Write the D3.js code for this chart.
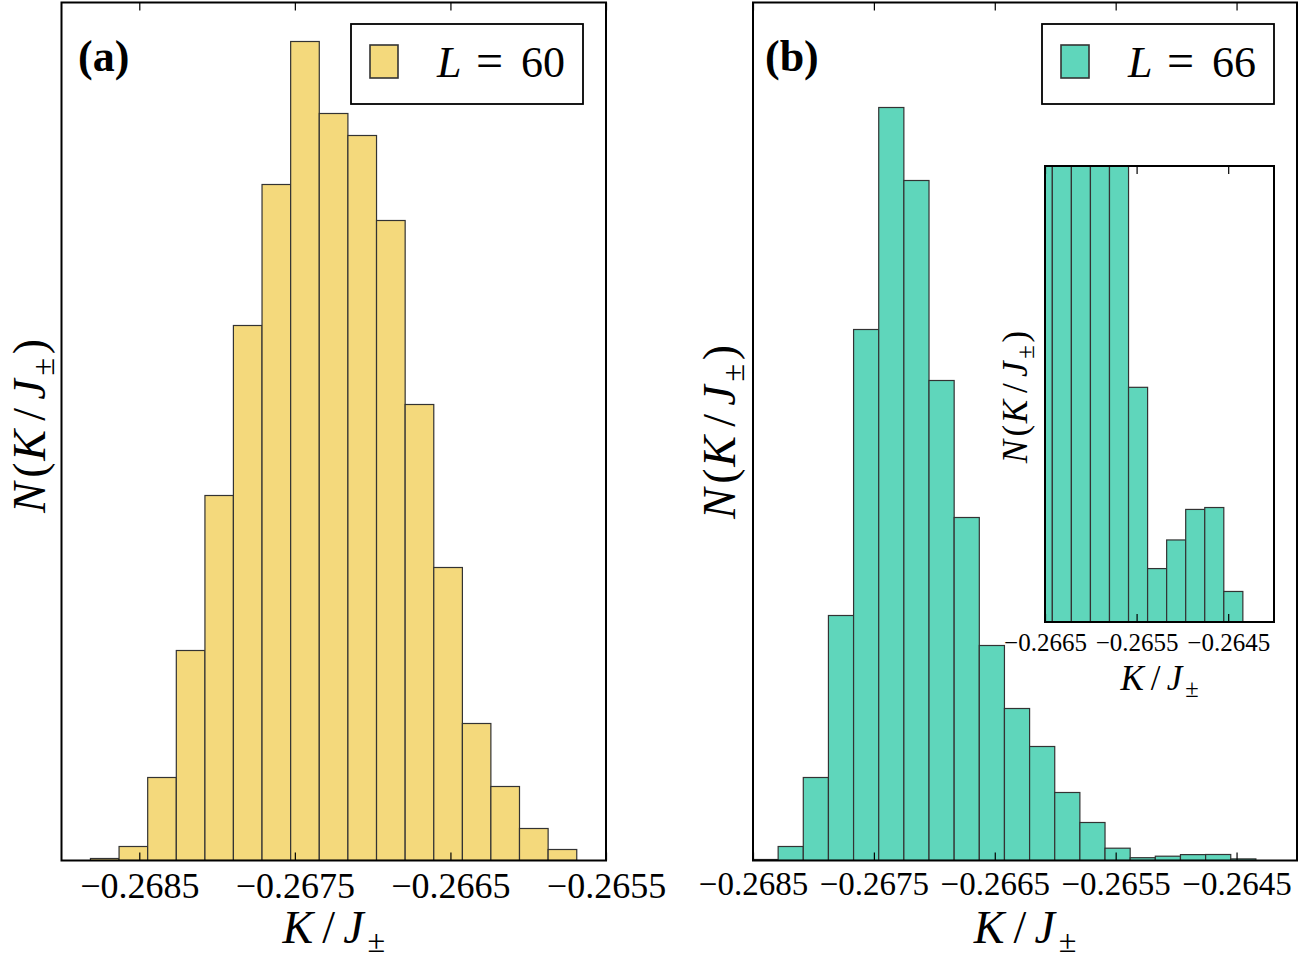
<!DOCTYPE html>
<html>
<head>
<meta charset="utf-8">
<script src="https://cdn.jsdelivr.net/npm/d3@7"></script>
<style>
  body { margin: 0; background: #fff; }
  svg { display: block; }
  text { font-family: "Liberation Serif", "Times New Roman", serif; fill: #000; }
</style>
</head>
<body>
<svg id="chart" width="1300" height="959"></svg>
<script>
// ---------------- data ----------------
// Panel (a): L = 60 histogram, bin edges and bin heights (arbitrary count units)
const edgesA = [-0.268814, -0.268630, -0.268446, -0.268262, -0.268078, -0.267895,
                -0.267711, -0.267527, -0.267343, -0.267159, -0.266975, -0.266791,
                -0.266607, -0.266423, -0.266240, -0.266056, -0.265872, -0.265688];
const countsA = [2, 14, 83, 210, 365, 535, 676, 819, 747, 725, 640, 456, 293, 137, 74, 32, 11];

// Panel (b): L = 66 histogram
const edgesB = [-0.268500, -0.268292, -0.268084, -0.267876, -0.267668, -0.267460,
                -0.267252, -0.267044, -0.266836, -0.266628, -0.266420, -0.266212,
                -0.266004, -0.265796, -0.265588, -0.265380, -0.265172, -0.264964,
                -0.264756, -0.264548, -0.264340];
const countsB = [1, 14, 83, 245, 531, 753, 680, 480, 343, 215, 152, 114, 68, 38, 12.3, 2.8, 4.3, 5.9, 6.0, 1.6];

const ticksA = [-0.2685, -0.2675, -0.2665, -0.2655];
const ticksB = [-0.2685, -0.2675, -0.2665, -0.2655, -0.2645];
const ticksInset = [-0.2665, -0.2655, -0.2645];

const domainA = [-0.2690, -0.2655];
const domainB = [-0.2685, -0.2640];
const domainInset = [-0.2665, -0.2640];
const yMaxMain = 858;
const yMaxInset = 23.9;

const legendA = "60";
const legendB = "66";
const panelLabels = ["(a)", "(b)"];

const colorA = "#f4d97c";
const colorB = "#5fd6bb";
const edgeColor = "#333333";

// ---------------- drawing ----------------
const svg = d3.select("#chart");
const fmt = d3.format(".4f"); // d3 v7 uses the real minus sign

let clipCount = 0;
function drawHist(p) {
  const x = d3.scaleLinear().domain(p.xDomain).range(p.xRange);
  const y = d3.scaleLinear().domain([0, p.yMax]).range(p.yRange);
  const g = svg.append("g");
  const x0 = x(p.xDomain[0]), x1 = x(p.xDomain[1]);
  const yT = y(p.yMax), yB = y(0);

  g.append("rect").attr("x", x0).attr("y", yT).attr("width", x1 - x0).attr("height", yB - yT)
    .attr("fill", "#fff");

  const id = "clip" + (clipCount++);
  g.append("clipPath").attr("id", id).append("rect")
    .attr("x", x0).attr("y", yT).attr("width", x1 - x0).attr("height", yB - yT);

  g.append("g").attr("clip-path", `url(#${id})`)
    .selectAll("rect").data(p.counts).join("rect")
    .attr("x", (d, i) => x(p.edges[i]))
    .attr("width", (d, i) => x(p.edges[i + 1]) - x(p.edges[i]))
    .attr("y", d => y(d))
    .attr("height", d => yB - y(d))
    .attr("fill", p.color)
    .attr("stroke", edgeColor)
    .attr("stroke-width", 1.2);

  // bottom ticks (inside) with labels
  const axB = g.append("g").attr("transform", `translate(0,${yB})`)
    .call(d3.axisBottom(x).tickValues(p.ticks).tickSize(-p.tickLen).tickFormat(fmt));
  axB.select(".domain").remove();
  axB.attr("font-family", null).attr("font-size", null);
  axB.selectAll(".tick line").attr("stroke", "#000").attr("stroke-width", 1.2);
  axB.selectAll(".tick text").attr("y", p.labelOffset).attr("dy", 0)
    .style("font-size", p.tickFont + "px").attr("fill", "#000");

  // top ticks (inside)
  const axT = g.append("g").attr("transform", `translate(0,${yT})`)
    .call(d3.axisTop(x).tickValues(p.ticks).tickSize(-p.tickLen).tickFormat(""));
  axT.select(".domain").remove();
  axT.selectAll(".tick line").attr("stroke", "#000").attr("stroke-width", 1.2);

  // frame
  g.append("rect").attr("x", x0).attr("y", yT).attr("width", x1 - x0).attr("height", yB - yT)
    .attr("fill", "none").attr("stroke", "#000").attr("stroke-width", p.frameW);

  return { x, y, g, x0, x1, yT, yB };
}

// math-like text: parts = [text, italic, sub, gapBefore(em)]
function mathText(sel, parts, size) {
  sel.style("font-size", size + "px");
  let subbed = false;
  parts.forEach(([t, it, sub, gap]) => {
    const ts = sel.append("tspan").text(t);
    if (it) ts.style("font-style", "italic");
    let dy = 0;
    if (sub && !subbed) { dy = 0.2 * size; subbed = true; }
    else if (!sub && subbed) { dy = -0.2 * size; subbed = false; }
    if (dy) ts.attr("dy", dy);
    if (gap) ts.attr("dx", gap * size);
    if (sub) ts.style("font-size", (0.7 * size) + "px");
  });
}
const KJ = [["K", true, false, 0], ["/", false, false, 0.2], ["J", true, false, 0.18], ["\u00b1", false, true, 0.08]];
const NKJ = [["N", true, false, 0], ["(", false, false, 0.1], ["K", true, false, 0.04], ["/", false, false, 0.2],
             ["J", true, false, 0.18], ["\u00b1", false, true, 0.08], [")", false, false, 0.08]];

function xLabel(cx, by, size) {
  const t = svg.append("text").attr("x", cx).attr("y", by).attr("text-anchor", "middle");
  mathText(t, KJ, size);
}
function yLabel(bx, cy, size) {
  const t = svg.append("text").attr("text-anchor", "middle")
    .attr("transform", `translate(${bx},${cy}) rotate(-90)`);
  mathText(t, NKJ, size);
}
function legend(bx, by, color, val) {
  svg.append("rect").attr("x", bx).attr("y", by).attr("width", 232).attr("height", 80)
    .attr("fill", "#fff").attr("stroke", "#000").attr("stroke-width", 1.8);
  svg.append("rect").attr("x", bx + 19).attr("y", by + 21).attr("width", 28).attr("height", 33)
    .attr("fill", color).attr("stroke", edgeColor).attr("stroke-width", 1.6);
  const t = svg.append("text").attr("y", by + 53).style("font-size", "44px");
  t.append("tspan").attr("x", bx + 86).style("font-style", "italic").text("L");
  t.append("tspan").attr("x", bx + 125).style("font-size", "48px").text("=");
  t.append("tspan").attr("x", bx + 170).text(val);
}

// Panel (a)
const pa = drawHist({
  xDomain: domainA, xRange: [61.5, 606], yMax: yMaxMain, yRange: [860.5, 2.5],
  edges: edgesA, counts: countsA, color: colorA, ticks: ticksA,
  tickLen: 8, labelOffset: 37, tickFont: 36, frameW: 2
});
xLabel((pa.x0 + pa.x1) / 2, 943, 46);
yLabel(45, 426, 46);
legend(351, 24, colorA, legendA);
svg.append("text").attr("x", 78).attr("y", 71).style("font-size", "44px").style("font-weight", "bold").text(panelLabels[0]);

// Panel (b)
const pb = drawHist({
  xDomain: domainB, xRange: [753, 1297], yMax: yMaxMain, yRange: [860.5, 2.5],
  edges: edgesB, counts: countsB, color: colorB, ticks: ticksB,
  tickLen: 8, labelOffset: 34, tickFont: 33, frameW: 2
});
xLabel((pb.x0 + pb.x1) / 2, 943, 46);
yLabel(735, 432, 46);
legend(1042, 24, colorB, legendB);
svg.append("text").attr("x", 765).attr("y", 71).style("font-size", "44px").style("font-weight", "bold").text(panelLabels[1]);

// Inset in panel (b)
const pi = drawHist({
  xDomain: domainInset, xRange: [1045, 1274], yMax: yMaxInset, yRange: [622, 166],
  edges: edgesB, counts: countsB, color: colorB, ticks: ticksInset,
  tickLen: 8, labelOffset: 29, tickFont: 25, frameW: 2
});
xLabel((pi.x0 + pi.x1) / 2, 690, 35);
yLabel(1027, 397, 35);
</script>
</body>
</html>
